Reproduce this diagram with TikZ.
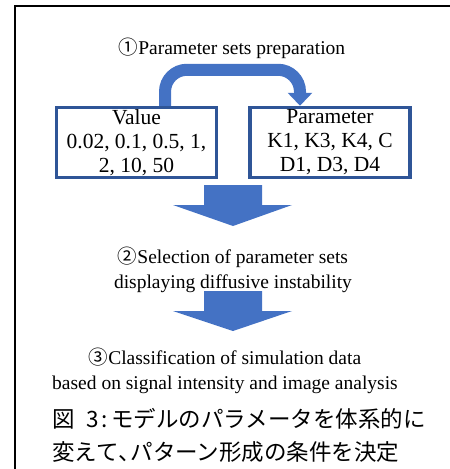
\documentclass[tikz,border=0pt]{standalone}
\usepackage{fontspec}
\setmainfont{Liberation Serif}
\newfontfamily\cjk{Noto Sans CJK JP}
\usetikzlibrary{arrows.meta}
\definecolor{boxblue}{HTML}{2F5597}
\definecolor{arrblue}{HTML}{4472C4}
\tikzset{
  txt/.style={align=center, inner sep=0pt, font=\fontsize{19.5}{24.5}\selectfont},
  valbox/.style={draw=boxblue, line width=3.5pt, minimum width=160pt, minimum height=70pt, align=center, inner sep=0pt, font=\fontsize{21.5}{24}\selectfont},
  curvarr/.style={draw=arrblue, line width=12pt, rounded corners=22pt, -{Triangle[width=24pt,length=13pt]}},
  blockarr/.style={fill=arrblue},
  capt/.style={anchor=west, align=left, inner sep=0pt, font=\cjk\fontsize{22.5}{33}\selectfont}
}
\begin{document}
\begin{tikzpicture}[x=1pt,y=-1pt]
\useasboundingbox (0,0) rectangle (450,469);
% outer frame (only left and top edges inside the picture)
\draw[line width=2pt] (15,469) -- (15,6) -- (450,6);

\node[txt] (t1) at (232,48) {{\cjk ①}Parameter sets preparation};
\node[valbox] (val) at (136.5,142.5) {Value\\0.02, 0.1, 0.5, 1,\\2, 10, 50};
\node[valbox] (par) at (330,142.5) {Parameter\\K1, K3, K4, C\\D1, D3, D4};

\draw[curvarr] ([xshift=28.5pt]val.north) -- ++(0,-36) -| ([xshift=-30pt]par.north);

\coordinate (a1) at (233,185);
\fill[blockarr] (a1) ++(-29,0) -- ++(58,0) -- ++(0,20) -- ++(30,0) -- (233,226) -- (173,205) -- (204,205) -- cycle;

\node[txt] (t2) at (233,270) {{\cjk ②}Selection of parameter sets\\displaying diffusive instability};

\coordinate (a2) at (233,291);
\fill[blockarr] (a2) ++(-29,0) -- ++(58,0) -- ++(0,20) -- ++(30,0) -- (233,331) -- (173,311) -- (204,311) -- cycle;

\node[txt] (t3) at (225,371) {{\cjk ③}Classification of simulation data\\based on signal intensity and image analysis};

\node[capt] (cap) at (52,435) {図\hspace{12pt}3\hspace{2pt}:\hspace{4pt}モデルのパラメータを体系的に\\変えて\makebox[12pt][l]{、}パターン形成の条件を決定};
\end{tikzpicture}
\end{document}
